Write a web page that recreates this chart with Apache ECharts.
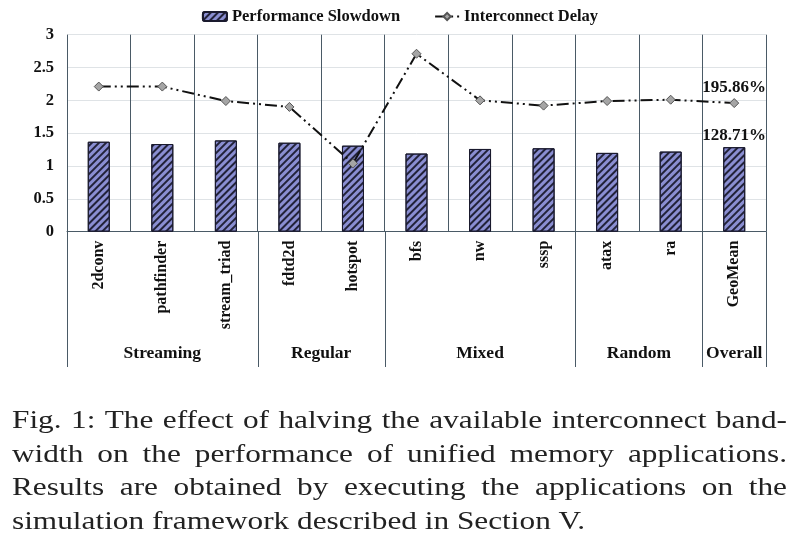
<!DOCTYPE html>
<html><head><meta charset="utf-8">
<script src="https://cdn.jsdelivr.net/npm/echarts@6/dist/echarts.min.js"></script>
<style>html,body{margin:0;padding:0;background:#fff}#c{width:800px;height:552px}</style>
</head><body><div id="c"></div>
<script>
const categories = ['2dconv','pathfinder','stream_triad','fdtd2d','hotspot','bfs','nw','sssp','atax','ra','GeoMean'];
const slowdown = [1.37, 1.335, 1.39, 1.355, 1.31, 1.19, 1.26, 1.27, 1.20, 1.22, 1.2871];
const delay = [2.21, 2.21, 1.99, 1.90, 1.04, 2.71, 2.00, 1.92, 1.99, 2.01, 1.9586];
const groupNames = ['Streaming','Regular','Mixed','Random','Overall'];
const groupStart = [0, 3, 5, 8, 10];
const groupEnd = [2, 4, 7, 9, 10];
const yTicks = [0, 3, 0.5];
const captionLines = [
  'Fig. 1: The effect of halving the available interconnect band-',
  'width on the performance of unified memory applications.',
  'Results are obtained by executing the applications on the',
  'simulation framework described in Section V.'
];
const captionJustify = [true, true, true, false];

const SERIF = '"Liberation Serif","Times New Roman",serif';
const last = categories.length - 1;
const pct = p => (p.value * 100).toFixed(2) + '%';
const labelStyle = {show: true, position: 'top', fontFamily: SERIF, fontWeight: 'bold', fontSize: 17, color: '#111', formatter: pct};

const chart = echarts.init(document.getElementById('c'), null, {renderer: 'canvas'});
chart.setOption({
  animation: false,
  backgroundColor: '#fff',
  legend: {
    top: 3, left: 'center', itemGap: 34, itemWidth: 24, itemHeight: 9,
    textStyle: {fontFamily: SERIF, fontWeight: 'bold', fontSize: 16.5, color: '#111'},
    data: ['Performance Slowdown', 'Interconnect Delay']
  },
  grid: {left: 67, right: 34, top: 34.7, bottom: 320.3, containLabel: false},
  xAxis: {
    type: 'category', data: categories, boundaryGap: true,
    axisLine: {lineStyle: {color: '#4a5a66', width: 1}},
    axisTick: {show: false},
    axisLabel: {rotate: 90, margin: 9, fontFamily: SERIF, fontWeight: 'bold', fontSize: 16, color: '#111', interval: 0},
    splitLine: {show: true, interval: 0, lineStyle: {color: '#4a5a66', width: 1}}
  },
  yAxis: {
    type: 'value', min: yTicks[0], max: yTicks[1], interval: yTicks[2],
    axisLine: {show: false}, axisTick: {show: false},
    axisLabel: {margin: 13, fontFamily: SERIF, fontWeight: 'bold', fontSize: 16.5, color: '#111'},
    splitLine: {lineStyle: {color: '#dfe3e6', width: 1}}
  },
  series: [
    {
      type: 'bar', name: 'Performance Slowdown', barWidth: 22, z: 2,
      data: slowdown.map((v, i) => i === last ? {value: v, label: Object.assign({}, labelStyle, {distance: 3})} : v),
      itemStyle: {
        color: '#8a8ed2', borderColor: '#1a1a2e', borderWidth: 1,
        decal: {symbol: 'rect', symbolSize: 1, dashArrayX: [1, 0], dashArrayY: [2, 2.5], rotation: -Math.PI / 4, color: 'rgba(25,25,45,0.92)'}
      }
    },
    {
      type: 'line', name: 'Interconnect Delay', z: 5,
      data: delay.map((v, i) => i === last ? {value: v, label: Object.assign({}, labelStyle, {distance: 2})} : v),
      symbol: 'diamond', symbolSize: 9,
      itemStyle: {color: '#a5a5a5', borderColor: '#555', borderWidth: 1},
      lineStyle: {color: '#111', width: 2, type: [12, 4, 2, 4, 2, 4]}
    }
  ]
});

// group separators and labels below the axis
const px = c => chart.convertToPixel({xAxisIndex: 0}, c);
const bw = px(categories[1]) - px(categories[0]);
const y0 = chart.convertToPixel({yAxisIndex: 0}, 0);
const graphics = [];
const bounds = new Set();
groupStart.forEach((s, g) => {
  bounds.add(px(categories[s]) - bw / 2);
  bounds.add(px(categories[groupEnd[g]]) + bw / 2);
  const cx = (px(categories[s]) + px(categories[groupEnd[g]])) / 2;
  graphics.push({type: 'text', x: cx, y: 353, style: {text: groupNames[g], align: 'center', verticalAlign: 'middle', font: 'bold 17.5px ' + SERIF, fill: '#111'}});
});
bounds.forEach(x => graphics.push({type: 'line', shape: {x1: Math.round(x) + 0.5, y1: y0, x2: Math.round(x) + 0.5, y2: 367}, style: {stroke: '#4a5a66', lineWidth: 1}}));

// justified caption (slightly widened serif to match the scanned page)
const ctx = document.createElement('canvas').getContext('2d');
const capFont = '26px ' + SERIF;
ctx.font = capFont;
const capLeft = 12, capRight = 787, capTop = 421.2, capStep = 33.5, lastLineRight = 585;
const sx = (lastLineRight - capLeft) / ctx.measureText(captionLines[3]).width;
captionLines.forEach((line, li) => {
  const y = capTop + li * capStep;
  if (!captionJustify[li]) {
    graphics.push({type: 'text', x: capLeft, y: y, scaleX: sx, style: {text: line, font: capFont, fill: '#222', verticalAlign: 'middle'}});
    return;
  }
  const words = line.split(' ');
  const widths = words.map(w => ctx.measureText(w).width * sx);
  const total = widths.reduce((a, b) => a + b, 0);
  const gap = (capRight - capLeft - total) / (words.length - 1);
  let x = capLeft;
  words.forEach((w, i) => {
    graphics.push({type: 'text', x: x, y: y, scaleX: sx, style: {text: w, font: capFont, fill: '#222', verticalAlign: 'middle'}});
    x += widths[i] + gap;
  });
});
chart.setOption({graphic: graphics});
</script></body></html>
